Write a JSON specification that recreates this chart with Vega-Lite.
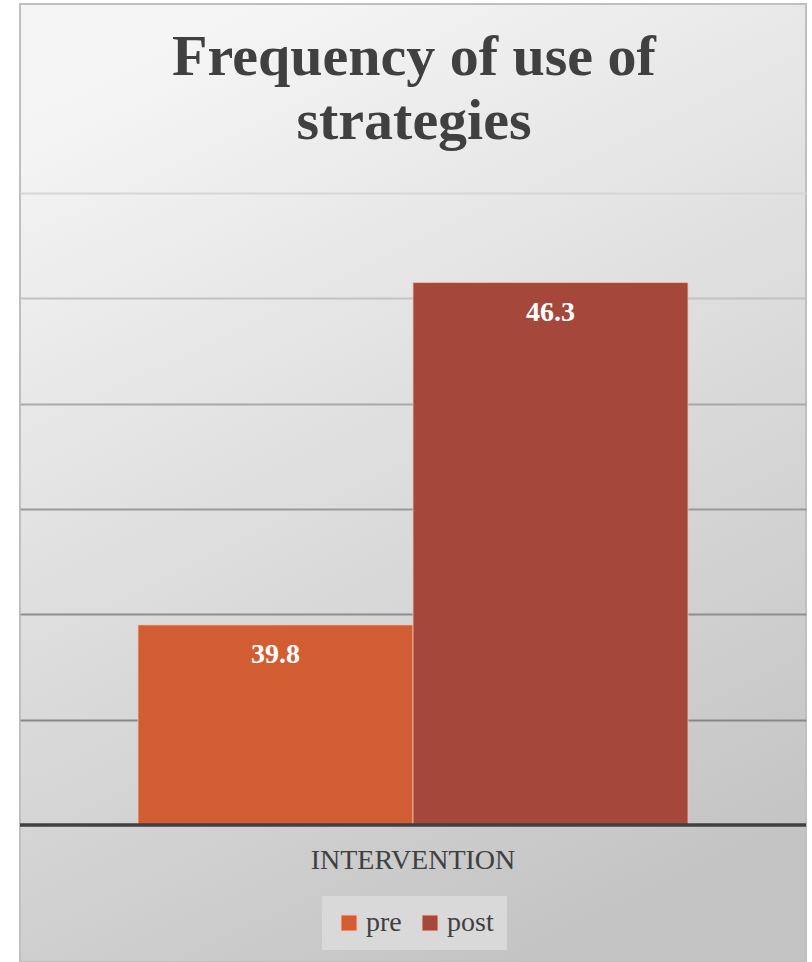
{
  "$schema": "https://vega.github.io/schema/vega-lite/v6.json",
  "width": 786,
  "height": 958,
  "autosize": {"type": "none"},
  "padding": {"left": 20, "top": 4, "right": 6, "bottom": 0},
  "background": "white",
  "title": {
    "text": ["Frequency of use of", "strategies"],
    "font": "Liberation Serif",
    "fontSize": 58,
    "fontWeight": "bold",
    "color": "#404040",
    "lineHeight": 64,
    "baseline": "alphabetic",
    "offset": -193,
    "anchor": "middle",
    "frame": "group",
    "dx": 1
  },
  "config": {
    "view": {
      "fill": {
        "gradient": "linear",
        "x1": 0.3, "y1": 0, "x2": 0.7, "y2": 1,
        "stops": [
          {"offset": 0, "color": "#f5f5f5"},
          {"offset": 0.5, "color": "#dcdcdc"},
          {"offset": 1, "color": "#c3c3c3"}
        ]
      },
      "stroke": "#bfbfbf",
      "strokeWidth": 2
    }
  },
  "data": {
    "values": [
      {"group": "INTERVENTION", "series": "pre", "value": 39.8},
      {"group": "INTERVENTION", "series": "post", "value": 46.3}
    ]
  },
  "layer": [
    {
      "mark": {"type": "bar", "stroke": "#efc3b3", "strokeWidth": 1, "strokeOpacity": 0.8},
      "encoding": {
        "x": {
          "field": "group",
          "type": "nominal",
          "scale": {"paddingInner": 0, "paddingOuter": 0.21455, "align": 0.5},
          "axis": {
            "orient": "bottom",
            "offset": -137,
            "domain": false,
            "ticks": false,
            "tickSize": 0,
            "grid": false,
            "labelAngle": 0,
            "labelLimit": 500,
            "labelFont": "Liberation Serif",
            "labelFontSize": 28,
            "labelColor": "#404040",
            "labelPadding": 21,
            "title": null
          }
        },
        "xOffset": {
          "field": "series",
          "type": "nominal",
          "sort": ["pre", "post"],
          "scale": {"paddingInner": 0, "paddingOuter": 0}
        },
        "y": {
          "field": "value",
          "type": "quantitative",
          "scale": {"domain": [33.399, 51.589], "nice": false, "zero": false},
          "axis": {
            "values": [38, 40, 42, 44, 46, 48],
            "labels": false,
            "ticks": false,
            "domain": false,
            "title": null,
            "grid": true,
            "gridWidth": 2,
            "gridColor": {
              "condition": [
                {"test": "datum.value >= 47", "value": "#d6d6d6"},
                {"test": "datum.value >= 45", "value": "#c2c2c2"},
                {"test": "datum.value >= 43", "value": "#a9a9a9"},
                {"test": "datum.value >= 41", "value": "#999999"},
                {"test": "datum.value >= 39", "value": "#8e8e8e"}
              ],
              "value": "#878787"
            }
          }
        },
        "y2": {"datum": 36},
        "color": {
          "field": "series",
          "type": "nominal",
          "scale": {"domain": ["pre", "post"], "range": ["#d35d33", "#a5473b"]},
          "legend": {
            "orient": "none",
            "legendX": 302,
            "legendY": 892,
            "direction": "horizontal",
            "title": null,
            "fillColor": "#d9d9d9",
            "padding": 13,
            "symbolType": "square",
            "symbolSize": 256,
            "symbolStrokeColor": "#f2c4b4",
            "symbolStrokeWidth": 1,
            "labelFont": "Liberation Serif",
            "labelFontSize": 28,
            "labelColor": "#404040",
            "labelOffset": 3,
            "columnPadding": 14
          }
        }
      }
    },
    {
      "mark": {
        "type": "text",
        "baseline": "alphabetic",
        "dy": 38,
        "font": "Liberation Serif",
        "fontSize": 28,
        "fontWeight": "bold",
        "color": "white"
      },
      "encoding": {
        "x": {"field": "group", "type": "nominal"},
        "xOffset": {"field": "series", "type": "nominal", "sort": ["pre", "post"]},
        "y": {"field": "value", "type": "quantitative"},
        "text": {"field": "value", "type": "quantitative", "format": ".1f"}
      }
    },
    {
      "mark": {"type": "rule", "color": "#404040", "strokeWidth": 3},
      "encoding": {
        "y": {"datum": 36}
      }
    }
  ]
}
